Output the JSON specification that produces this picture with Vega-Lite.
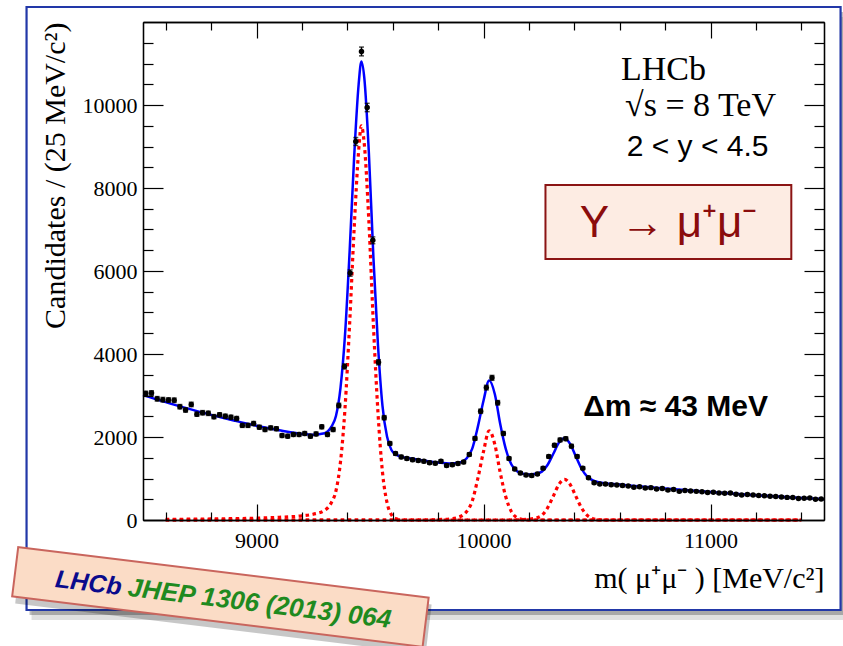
{
  "$schema": "https://vega.github.io/schema/vega-lite/v6.json",
  "width": 681,
  "height": 498,
  "autosize": {"type": "none"},
  "padding": {"left": 143, "top": 22, "right": 19, "bottom": 126},
  "background": "white",
  "config": {
    "view": {"stroke": "black", "strokeWidth": 1.3},
    "axis": {
      "domainColor": "black", "domainWidth": 1.3,
      "tickColor": "black", "tickWidth": 1.2,
      "labelFont": "Liberation Serif", "labelFontSize": 22, "labelColor": "black",
      "titleFont": "Liberation Serif", "titleFontSize": 30, "titleFontWeight": "normal", "titleColor": "black",
      "grid": false
    }
  },
  "datasets": {
    "frame": [{"m1": 7987, "m2": 11573, "n1": 12361, "n2": -2169}],
    "box": [{"m1": 10273, "m2": 11356, "n1": 8072, "n2": 6289}],
    "sticker": [{"m": 8841, "n": -1855}],
    "pts": [
      {"m": 8512.5, "n": 3048, "e": 55}, {"m": 8537.5, "n": 3060, "e": 55}, {"m": 8562.5, "n": 2920, "e": 54}, {"m": 8587.5, "n": 2900, "e": 54},
      {"m": 8612.5, "n": 2890, "e": 54}, {"m": 8637.5, "n": 2885, "e": 54}, {"m": 8662.5, "n": 2730, "e": 52}, {"m": 8687.5, "n": 2650, "e": 51},
      {"m": 8712.5, "n": 2785, "e": 53}, {"m": 8737.5, "n": 2550, "e": 50}, {"m": 8762.5, "n": 2585, "e": 51}, {"m": 8787.5, "n": 2570, "e": 51},
      {"m": 8812.5, "n": 2490, "e": 50}, {"m": 8837.5, "n": 2535, "e": 50}, {"m": 8862.5, "n": 2500, "e": 50}, {"m": 8887.5, "n": 2475, "e": 50},
      {"m": 8912.5, "n": 2445, "e": 49}, {"m": 8937.5, "n": 2280, "e": 48}, {"m": 8962.5, "n": 2280, "e": 48}, {"m": 8987.5, "n": 2325, "e": 48},
      {"m": 9012.5, "n": 2235, "e": 47}, {"m": 9037.5, "n": 2180, "e": 47}, {"m": 9062.5, "n": 2220, "e": 47}, {"m": 9087.5, "n": 2200, "e": 47},
      {"m": 9112.5, "n": 2035, "e": 45}, {"m": 9137.5, "n": 2020, "e": 45}, {"m": 9162.5, "n": 2060, "e": 45}, {"m": 9187.5, "n": 2060, "e": 45},
      {"m": 9212.5, "n": 2085, "e": 46}, {"m": 9237.5, "n": 2020, "e": 45}, {"m": 9262.5, "n": 2075, "e": 46}, {"m": 9287.5, "n": 2245, "e": 47},
      {"m": 9312.5, "n": 2060, "e": 45}, {"m": 9337.5, "n": 2180, "e": 47}, {"m": 9362.5, "n": 2760, "e": 53}, {"m": 9387.5, "n": 3700, "e": 61},
      {"m": 9412.5, "n": 5950, "e": 77}, {"m": 9437.5, "n": 9120, "e": 95}, {"m": 9462.5, "n": 11290, "e": 106}, {"m": 9487.5, "n": 9940, "e": 100},
      {"m": 9512.5, "n": 6740, "e": 82}, {"m": 9537.5, "n": 3800, "e": 62}, {"m": 9562.5, "n": 2465, "e": 50}, {"m": 9587.5, "n": 1845, "e": 43},
      {"m": 9612.5, "n": 1600, "e": 40}, {"m": 9637.5, "n": 1520, "e": 39}, {"m": 9662.5, "n": 1480, "e": 38}, {"m": 9687.5, "n": 1450, "e": 38},
      {"m": 9712.5, "n": 1435, "e": 38}, {"m": 9737.5, "n": 1415, "e": 38}, {"m": 9762.5, "n": 1380, "e": 37}, {"m": 9787.5, "n": 1370, "e": 37},
      {"m": 9812.5, "n": 1415, "e": 38}, {"m": 9837.5, "n": 1315, "e": 36}, {"m": 9862.5, "n": 1330, "e": 36}, {"m": 9887.5, "n": 1360, "e": 37},
      {"m": 9912.5, "n": 1395, "e": 37}, {"m": 9937.5, "n": 1580, "e": 40}, {"m": 9962.5, "n": 1965, "e": 44}, {"m": 9987.5, "n": 2620, "e": 51},
      {"m": 10012.5, "n": 3190, "e": 56}, {"m": 10037.5, "n": 3425, "e": 59}, {"m": 10062.5, "n": 2825, "e": 53}, {"m": 10087.5, "n": 2085, "e": 46},
      {"m": 10112.5, "n": 1480, "e": 38}, {"m": 10137.5, "n": 1230, "e": 35}, {"m": 10162.5, "n": 1130, "e": 34}, {"m": 10187.5, "n": 1085, "e": 33},
      {"m": 10212.5, "n": 1070, "e": 33}, {"m": 10237.5, "n": 1110, "e": 33}, {"m": 10262.5, "n": 1250, "e": 35}, {"m": 10287.5, "n": 1530, "e": 39},
      {"m": 10312.5, "n": 1800, "e": 42}, {"m": 10337.5, "n": 1930, "e": 44}, {"m": 10362.5, "n": 1960, "e": 44}, {"m": 10387.5, "n": 1780, "e": 42},
      {"m": 10412.5, "n": 1530, "e": 39}, {"m": 10437.5, "n": 1250, "e": 35}, {"m": 10462.5, "n": 1020, "e": 32}, {"m": 10487.5, "n": 900, "e": 30},
      {"m": 10512.5, "n": 870, "e": 29}, {"m": 10537.5, "n": 865, "e": 29}, {"m": 10562.5, "n": 850, "e": 29}, {"m": 10587.5, "n": 845, "e": 29},
      {"m": 10612.5, "n": 830, "e": 29}, {"m": 10637.5, "n": 820, "e": 29}, {"m": 10662.5, "n": 790, "e": 28}, {"m": 10687.5, "n": 800, "e": 28},
      {"m": 10712.5, "n": 770, "e": 28}, {"m": 10737.5, "n": 780, "e": 28}, {"m": 10762.5, "n": 745, "e": 27}, {"m": 10787.5, "n": 760, "e": 28},
      {"m": 10812.5, "n": 720, "e": 27}, {"m": 10837.5, "n": 735, "e": 27}, {"m": 10862.5, "n": 690, "e": 26}, {"m": 10887.5, "n": 710, "e": 27},
      {"m": 10912.5, "n": 700, "e": 26}, {"m": 10937.5, "n": 690, "e": 26}, {"m": 10962.5, "n": 680, "e": 26}, {"m": 10987.5, "n": 665, "e": 26},
      {"m": 11012.5, "n": 670, "e": 26}, {"m": 11037.5, "n": 650, "e": 25}, {"m": 11062.5, "n": 645, "e": 25}, {"m": 11087.5, "n": 650, "e": 25},
      {"m": 11112.5, "n": 620, "e": 25}, {"m": 11137.5, "n": 600, "e": 24}, {"m": 11162.5, "n": 615, "e": 25}, {"m": 11187.5, "n": 600, "e": 24},
      {"m": 11212.5, "n": 590, "e": 24}, {"m": 11237.5, "n": 585, "e": 24}, {"m": 11262.5, "n": 570, "e": 24}, {"m": 11287.5, "n": 565, "e": 24},
      {"m": 11312.5, "n": 555, "e": 24}, {"m": 11337.5, "n": 545, "e": 23}, {"m": 11362.5, "n": 540, "e": 23}, {"m": 11387.5, "n": 520, "e": 23},
      {"m": 11412.5, "n": 525, "e": 23}, {"m": 11437.5, "n": 530, "e": 23}, {"m": 11462.5, "n": 500, "e": 22}, {"m": 11487.5, "n": 505, "e": 22}
    ],
    "fit": [
      {"m": 8500, "n": 3012}, {"m": 8600, "n": 2841}, {"m": 8700, "n": 2683}, {"m": 8800, "n": 2533}, {"m": 8900, "n": 2398},
      {"m": 9000, "n": 2271}, {"m": 9100, "n": 2162}, {"m": 9200, "n": 2075}, {"m": 9250, "n": 2057}, {"m": 9300, "n": 2091},
      {"m": 9330, "n": 2250}, {"m": 9350, "n": 2505}, {"m": 9370, "n": 3185}, {"m": 9390, "n": 4465}, {"m": 9410, "n": 6445},
      {"m": 9430, "n": 8725}, {"m": 9450, "n": 10500}, {"m": 9462, "n": 11050}, {"m": 9475, "n": 10650}, {"m": 9495, "n": 8850},
      {"m": 9515, "n": 6330}, {"m": 9535, "n": 4230}, {"m": 9555, "n": 2750}, {"m": 9575, "n": 2010}, {"m": 9595, "n": 1680},
      {"m": 9615, "n": 1575}, {"m": 9640, "n": 1522}, {"m": 9700, "n": 1466}, {"m": 9800, "n": 1385}, {"m": 9850, "n": 1360},
      {"m": 9900, "n": 1390}, {"m": 9925, "n": 1481}, {"m": 9950, "n": 1712}, {"m": 9975, "n": 2244}, {"m": 10000, "n": 2875},
      {"m": 10025, "n": 3360}, {"m": 10050, "n": 3030}, {"m": 10073, "n": 2332}, {"m": 10098, "n": 1715}, {"m": 10123, "n": 1337},
      {"m": 10148, "n": 1175}, {"m": 10173, "n": 1117}, {"m": 10200, "n": 1097}, {"m": 10230, "n": 1114}, {"m": 10257, "n": 1165},
      {"m": 10282, "n": 1326}, {"m": 10307, "n": 1590}, {"m": 10332, "n": 1860}, {"m": 10357, "n": 1970}, {"m": 10382, "n": 1830},
      {"m": 10407, "n": 1530}, {"m": 10432, "n": 1235}, {"m": 10457, "n": 1046}, {"m": 10482, "n": 953}, {"m": 10507, "n": 913},
      {"m": 10600, "n": 856}, {"m": 10800, "n": 760}, {"m": 11000, "n": 674}, {"m": 11200, "n": 599}, {"m": 11400, "n": 531},
      {"m": 11500, "n": 500}
    ],
    "sig": [
      {"c": "1S", "m": 8600, "n": 15}, {"c": "1S", "m": 8800, "n": 25}, {"c": "1S", "m": 9000, "n": 45}, {"c": "1S", "m": 9100, "n": 65},
      {"c": "1S", "m": 9200, "n": 100}, {"c": "1S", "m": 9250, "n": 140}, {"c": "1S", "m": 9300, "n": 230}, {"c": "1S", "m": 9330, "n": 420},
      {"c": "1S", "m": 9350, "n": 700}, {"c": "1S", "m": 9370, "n": 1400}, {"c": "1S", "m": 9390, "n": 2700}, {"c": "1S", "m": 9410, "n": 4700},
      {"c": "1S", "m": 9430, "n": 7000}, {"c": "1S", "m": 9450, "n": 8900}, {"c": "1S", "m": 9462, "n": 9500}, {"c": "1S", "m": 9475, "n": 9050},
      {"c": "1S", "m": 9495, "n": 7200}, {"c": "1S", "m": 9515, "n": 4700}, {"c": "1S", "m": 9535, "n": 2600}, {"c": "1S", "m": 9555, "n": 1150},
      {"c": "1S", "m": 9575, "n": 420}, {"c": "1S", "m": 9595, "n": 120}, {"c": "1S", "m": 9615, "n": 30}, {"c": "1S", "m": 9640, "n": 0},
      {"c": "1S", "m": 11400, "n": 0},
      {"c": "2S", "m": 8600, "n": 0}, {"c": "2S", "m": 9750, "n": 0}, {"c": "2S", "m": 9800, "n": 10}, {"c": "2S", "m": 9850, "n": 25},
      {"c": "2S", "m": 9880, "n": 50}, {"c": "2S", "m": 9900, "n": 90}, {"c": "2S", "m": 9925, "n": 200}, {"c": "2S", "m": 9950, "n": 450},
      {"c": "2S", "m": 9975, "n": 1000}, {"c": "2S", "m": 10000, "n": 1650}, {"c": "2S", "m": 10025, "n": 2150}, {"c": "2S", "m": 10050, "n": 1820},
      {"c": "2S", "m": 10073, "n": 1160}, {"c": "2S", "m": 10098, "n": 560}, {"c": "2S", "m": 10123, "n": 200}, {"c": "2S", "m": 10148, "n": 55},
      {"c": "2S", "m": 10173, "n": 12}, {"c": "2S", "m": 10200, "n": 0}, {"c": "2S", "m": 11400, "n": 0},
      {"c": "3S", "m": 8600, "n": 0}, {"c": "3S", "m": 10100, "n": 0}, {"c": "3S", "m": 10150, "n": 5}, {"c": "3S", "m": 10200, "n": 20},
      {"c": "3S", "m": 10230, "n": 45}, {"c": "3S", "m": 10257, "n": 112}, {"c": "3S", "m": 10282, "n": 290}, {"c": "3S", "m": 10307, "n": 570},
      {"c": "3S", "m": 10332, "n": 855}, {"c": "3S", "m": 10357, "n": 980}, {"c": "3S", "m": 10382, "n": 855}, {"c": "3S", "m": 10407, "n": 570},
      {"c": "3S", "m": 10432, "n": 290}, {"c": "3S", "m": 10457, "n": 112}, {"c": "3S", "m": 10482, "n": 33}, {"c": "3S", "m": 10507, "n": 7},
      {"c": "3S", "m": 10530, "n": 0}, {"c": "3S", "m": 11400, "n": 0}
    ]
  },
  "resolve": {"axis": {"x": "independent", "y": "independent"}},
  "layer": [
    {
      "data": {"name": "frame"},
      "mark": {"type": "rect", "fill": "#000000", "opacity": 0.12, "xOffset": 5, "x2Offset": 5, "yOffset": 10, "y2Offset": 10},
      "encoding": {
        "x": {"field": "m1", "type": "quantitative", "scale": {"domain": [8500, 11500], "nice": false, "zero": false}, "axis": null},
        "x2": {"field": "m2"},
        "y": {"field": "n1", "type": "quantitative", "scale": {"domain": [0, 12000], "nice": false}, "axis": null},
        "y2": {"field": "n2"}
      }
    },
    {
      "data": {"name": "frame"},
      "mark": {"type": "rect", "fill": "#000000", "opacity": 0.25, "xOffset": 3, "x2Offset": 3, "yOffset": 5, "y2Offset": 5},
      "encoding": {
        "x": {"field": "m1", "type": "quantitative", "axis": null},
        "x2": {"field": "m2"},
        "y": {"field": "n1", "type": "quantitative", "axis": null},
        "y2": {"field": "n2"}
      }
    },
    {
      "data": {"name": "frame"},
      "mark": {"type": "rect", "fill": "white", "stroke": "#2238a8", "strokeWidth": 2.2},
      "encoding": {
        "x": {"field": "m1", "type": "quantitative", "axis": null},
        "x2": {"field": "m2"},
        "y": {"field": "n1", "type": "quantitative", "axis": null},
        "y2": {"field": "n2"}
      }
    },
    {
      "data": {"name": "box"},
      "mark": {"type": "rect", "fill": "#fdece3", "stroke": "#8b1414", "strokeWidth": 2},
      "encoding": {
        "x": {"field": "m1", "type": "quantitative", "axis": null},
        "x2": {"field": "m2"},
        "y": {"field": "n1", "type": "quantitative", "axis": null},
        "y2": {"field": "n2"}
      }
    },
    {
      "data": {"name": "sig"},
      "mark": {"type": "line", "color": "#ff0000", "strokeWidth": 3.2, "strokeDash": [3.5, 3.5], "interpolate": "monotone"},
      "encoding": {
        "x": {
          "field": "m", "type": "quantitative",
          "scale": {"domain": [8500, 11500], "nice": false, "zero": false},
          "axis": {
            "orient": "bottom", "zindex": 2,
            "values": [9000, 10000, 11000],
            "format": "d",
            "ticks": false,
            "labelPadding": 10,
            "labelFlush": false,
            "title": "m( μ⁺μ⁻ ) [MeV/c²]",
            "titleAnchor": "end",
            "titlePadding": 12
          }
        },
        "y": {
          "field": "n", "type": "quantitative",
          "scale": {"domain": [0, 12000], "nice": false},
          "axis": {
            "orient": "left", "zindex": 2,
            "values": [0, 2000, 4000, 6000, 8000, 10000],
            "format": "d",
            "ticks": false,
            "labelPadding": 6,
            "labelFlush": false,
            "title": "Candidates / (25 MeV/c²)",
            "titleAnchor": "end",
            "titlePadding": 12
          }
        },
        "detail": {"field": "c"}
      }
    },
    {
      "data": {"name": "fit"},
      "mark": {"type": "line", "color": "#0000ff", "strokeWidth": 2.5, "interpolate": "monotone"},
      "encoding": {
        "x": {
          "field": "m", "type": "quantitative",
          "axis": {"orient": "bottom", "zindex": 2, "values": [9000, 10000, 11000], "labels": false, "title": null, "tickSize": -16}
        },
        "y": {
          "field": "n", "type": "quantitative",
          "axis": {"orient": "left", "zindex": 2, "values": [0, 2000, 4000, 6000, 8000, 10000], "labels": false, "title": null, "tickSize": -20}
        }
      }
    },
    {
      "data": {"name": "pts"},
      "mark": {"type": "errorbar", "color": "black", "thickness": 1.5, "ticks": {"size": 5, "thickness": 1.5}},
      "encoding": {
        "x": {"field": "m", "type": "quantitative", "axis": null},
        "y": {"field": "n", "type": "quantitative", "axis": null},
        "yError": {"field": "e"}
      }
    },
    {
      "data": {"name": "pts"},
      "mark": {"type": "circle", "color": "black", "size": 30, "opacity": 1},
      "encoding": {
        "x": {
          "field": "m", "type": "quantitative",
          "axis": {"orient": "bottom", "zindex": 2, "values": [8600, 8800, 9200, 9400, 9600, 9800, 10200, 10400, 10600, 10800, 11200, 11400], "labels": false, "title": null, "tickSize": -8, "domain": false}
        },
        "y": {
          "field": "n", "type": "quantitative",
          "axis": {"orient": "left", "zindex": 2, "values": [500, 1000, 1500, 2500, 3000, 3500, 4500, 5000, 5500, 6500, 7000, 7500, 8500, 9000, 9500, 10500, 11000, 11500], "labels": false, "title": null, "tickSize": -10, "domain": false}
        }
      }
    },
    {
      "data": {"values": [{"m": 10793, "n": 10843, "t": "LHCb"}, {"m": 10956, "n": 9976, "t": "√s = 8 TeV"}]},
      "mark": {"type": "text", "font": "Liberation Serif", "fontSize": 34, "color": "black", "align": "center", "baseline": "middle"},
      "encoding": {
        "x": {
          "field": "m", "type": "quantitative",
          "axis": {"orient": "top", "zindex": 2, "values": [9000, 10000, 11000], "labels": false, "title": null, "tickSize": -16}
        },
        "y": {
          "field": "n", "type": "quantitative",
          "axis": {"orient": "right", "zindex": 2, "values": [2000, 4000, 6000, 8000, 10000], "labels": false, "title": null, "tickSize": -20}
        },
        "text": {"field": "t"}
      }
    },
    {
      "data": {"values": [{"m": 10943, "n": 8988, "t": "2 < y < 4.5"}]},
      "mark": {"type": "text", "font": "Liberation Sans", "fontSize": 30, "color": "black", "align": "center", "baseline": "middle"},
      "encoding": {
        "x": {
          "field": "m", "type": "quantitative",
          "axis": {"orient": "top", "zindex": 2, "values": [8600, 8800, 9200, 9400, 9600, 9800, 10200, 10400, 10600, 10800, 11200, 11400], "labels": false, "title": null, "tickSize": -8}
        },
        "y": {
          "field": "n", "type": "quantitative",
          "axis": {"orient": "right", "zindex": 2, "values": [500, 1000, 1500, 2500, 3000, 3500, 4500, 5000, 5500, 6500, 7000, 7500, 8500, 9000, 9500, 10500, 11000, 11500], "labels": false, "title": null, "tickSize": -10}
        },
        "text": {"field": "t"}
      }
    },
    {
      "data": {"values": [{"m": 10815, "n": 7133, "t": "Υ → μ⁺μ⁻"}]},
      "mark": {"type": "text", "font": "Liberation Sans", "fontSize": 44, "color": "#8b0c0c", "align": "center", "baseline": "middle"},
      "encoding": {
        "x": {"field": "m", "type": "quantitative", "axis": null},
        "y": {"field": "n", "type": "quantitative", "axis": null},
        "text": {"field": "t"}
      }
    },
    {
      "data": {"values": [{"m": 10846, "n": 2730, "t": "Δm ≈ 43 MeV"}]},
      "mark": {"type": "text", "font": "Liberation Sans", "fontSize": 30, "fontWeight": "bold", "color": "black", "align": "center", "baseline": "middle"},
      "encoding": {
        "x": {"field": "m", "type": "quantitative", "axis": null},
        "y": {"field": "n", "type": "quantitative", "axis": null},
        "text": {"field": "t"}
      }
    },
    {
      "data": {"name": "sticker"},
      "mark": {"type": "point", "shape": "M-1,-0.12L1,-0.12L1,0.12L-1,0.12Z", "size": 171000, "angle": 7, "filled": true, "fill": "#000000", "opacity": 0.22, "strokeWidth": 0, "xOffset": 3, "yOffset": 7},
      "encoding": {
        "x": {"field": "m", "type": "quantitative", "axis": null},
        "y": {"field": "n", "type": "quantitative", "axis": null}
      }
    },
    {
      "data": {"name": "sticker"},
      "mark": {"type": "point", "shape": "M-1,-0.12L1,-0.12L1,0.12L-1,0.12Z", "size": 171000, "angle": 7, "filled": true, "fill": "#fbdcc6", "stroke": "#c9655d", "strokeWidth": 2, "opacity": 1},
      "encoding": {
        "x": {"field": "m", "type": "quantitative", "axis": null},
        "y": {"field": "n", "type": "quantitative", "axis": null}
      }
    },
    {
      "data": {"values": [{"m": 8260, "n": -1518, "t": "LHCb"}]},
      "mark": {"type": "text", "font": "Liberation Sans", "fontSize": 25, "fontWeight": "bold", "fontStyle": "italic", "color": "#0a0a8c", "align": "center", "baseline": "middle", "angle": 7},
      "encoding": {
        "x": {"field": "m", "type": "quantitative", "axis": null},
        "y": {"field": "n", "type": "quantitative", "axis": null},
        "text": {"field": "t"}
      }
    },
    {
      "data": {"values": [{"m": 9013, "n": -2024, "t": "JHEP 1306 (2013) 064"}]},
      "mark": {"type": "text", "font": "Liberation Sans", "fontSize": 26, "fontWeight": "bold", "fontStyle": "italic", "color": "#1f8a1f", "align": "center", "baseline": "middle", "angle": 7},
      "encoding": {
        "x": {"field": "m", "type": "quantitative", "axis": null},
        "y": {"field": "n", "type": "quantitative", "axis": null},
        "text": {"field": "t"}
      }
    }
  ]
}
